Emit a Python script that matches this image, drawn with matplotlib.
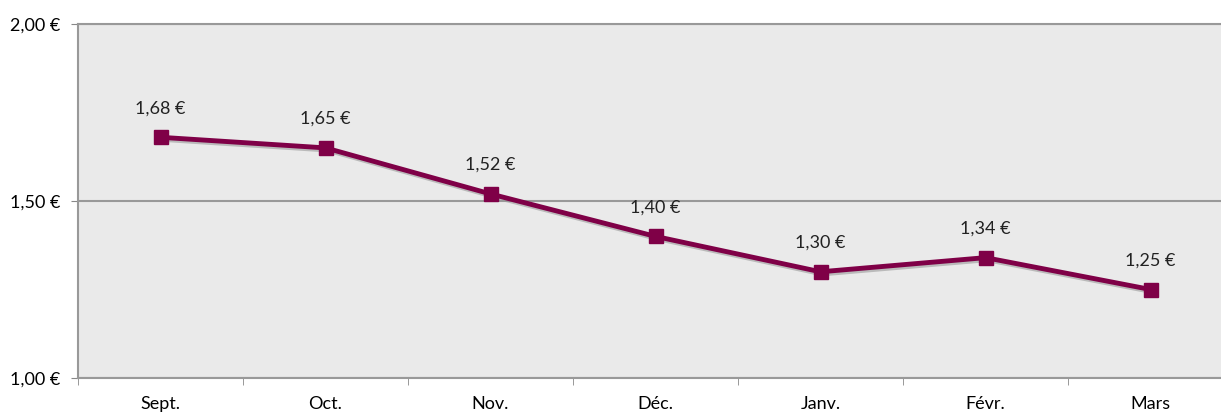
import matplotlib.pyplot as plt

months = ["Sept.", "Oct.", "Nov.", "Déc.", "Janv.", "Févr.", "Mars"]
prices = [1.68, 1.65, 1.52, 1.40, 1.30, 1.34, 1.25]
yticks = [1.00, 1.50, 2.00]

plt.rcParams['font.family'] = ['Lato', 'DejaVu Sans']

fig = plt.figure(figsize=(12.21, 4.16), dpi=100)
ax = fig.add_axes([78/1221, 38/416, 1155/1221, 354/416])
ax.set_facecolor("#EAEAEA")

x = list(range(len(months)))
# faint shadow under the line
ax.plot([v + 0.01 for v in x], [p - 0.006 for p in prices], color="#9A9A9A", lw=3.5, alpha=0.6, zorder=2)
ax.plot(x, prices, color="#7F0047", lw=3.5, marker="s", markersize=10, zorder=3)

for xi, p in zip(x, prices):
    ax.annotate(("%.2f €" % p).replace(".", ","), (xi, p), xytext=(0, 15),
                textcoords="offset points", ha="center", va="bottom", fontsize=13, color="#222222")

ax.set_xlim(-0.5, 6.5)
ax.set_ylim(1.0, 2.0)
ax.set_yticks(yticks)
ax.set_yticklabels([("%.2f €" % t).replace(".", ",") for t in yticks], fontsize=13)
ax.set_xticks(x)
ax.set_xticklabels(months, fontsize=13)
ax.tick_params(axis="x", length=0, pad=13)
ax.set_xticks([i + 0.5 for i in range(-1, 7)], minor=True)
ax.tick_params(axis="x", which="minor", length=5, color="#888888")
ax.tick_params(axis="y", length=5, color="#888888", pad=8)

ax.grid(axis="y", color="#999999", lw=1.5)
ax.set_axisbelow(True)
for s in ["left", "bottom", "top"]:
    ax.spines[s].set_color("#999999")
    ax.spines[s].set_linewidth(1.5)
ax.spines["right"].set_visible(False)

fig.savefig("out.png", dpi=100)
